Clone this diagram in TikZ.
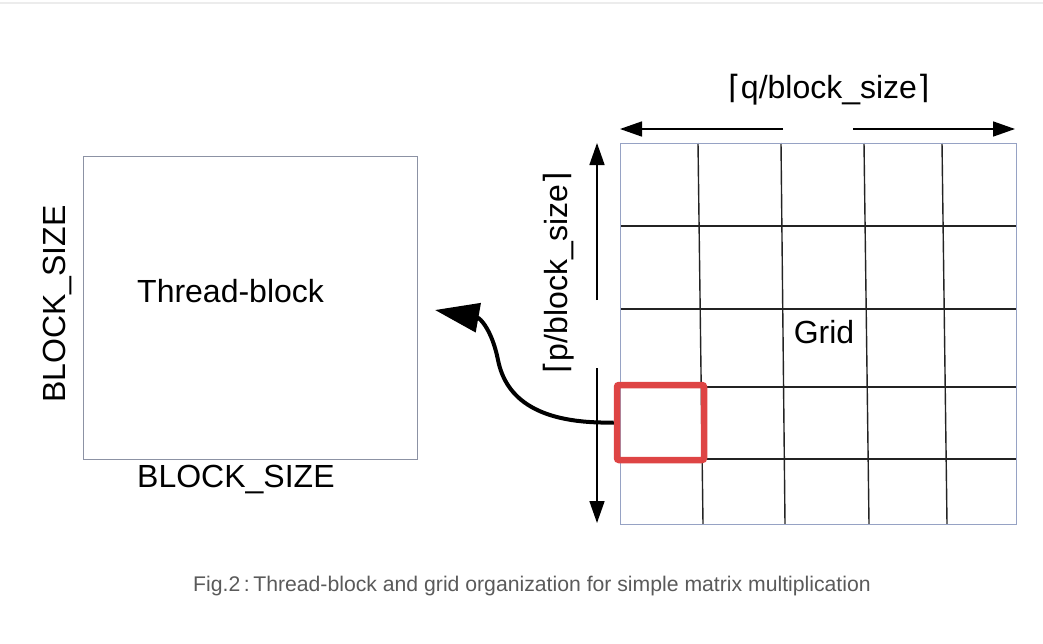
\documentclass[tikz,border=0pt]{standalone}
\usepackage{fontspec}
\setmainfont{Liberation Sans}
\newfontfamily\dv{DejaVu Sans}
\usetikzlibrary{arrows.meta}
\definecolor{boxgray}{RGB}{140,146,164}
\definecolor{gridblue}{RGB}{150,162,196}
\definecolor{gridline}{RGB}{35,35,35}
\definecolor{redsq}{RGB}{222,68,68}
\definecolor{capgray}{RGB}{90,90,90}
\definecolor{topgray}{RGB}{236,236,236}
\begin{document}
\begin{tikzpicture}[x=1pt,y=-1pt,
  lbl/.style={font=\fontsize{32}{38}\selectfont, inner sep=0pt, text=black},
  dimarrow/.style={line width=1.6pt, -{Triangle[length=22pt,width=15pt]}},
  bigarrow/.style={line width=4pt, -{Triangle[length=44pt,width=29pt]}},
  gl/.style={gridline, line width=1.4pt}
]
\useasboundingbox (0,0) rectangle (1043,643);
\draw[topgray, line width=1.5pt] (0,3) -- (1043,3);

% Thread block
\node[draw=boxgray, line width=1.3pt, minimum width=334pt, minimum height=303pt, inner sep=0pt, anchor=north west] (tb) at (83,156) {};
\node[lbl, anchor=base west] (tbl) at (137,302) {Thread-block};
\node[lbl, anchor=base west] (bsx) at (137,487) {BLOCK\_SIZE};
\node[lbl, anchor=base west, rotate=90] (bsy) at (65,403) {BLOCK\_SIZE};

% Grid
\foreach \xt/\xb in {698/703, 781/785, 864/869, 942/947}
  \draw[gl] (\xt,143) -- (\xb,524);
\foreach \yy in {226,309,387,459}
  \draw[gl] (620,\yy) -- (1016,\yy);
\node[draw=gridblue, line width=1.3pt, minimum width=396pt, minimum height=381pt, inner sep=0pt, anchor=north west] (grid) at (620,143) {};
\node[lbl, anchor=base] (gridl) at (824,343) {Grid};

% red square
\node[draw=redsq, line width=6.5pt, rounded corners=2pt, minimum width=87pt, minimum height=75pt, inner sep=0pt] (rs) at (660.5,422.5) {};

% dimension arrows
\coordinate (hl0) at (783,129);
\coordinate (hl1) at (620,129);
\coordinate (hr0) at (853,129);
\coordinate (hr1) at (1015,129);
\draw[dimarrow] (hl0) -- (hl1);
\draw[dimarrow] (hr0) -- (hr1);
\node[lbl, anchor=base] (ql) at (829,98) {{\dv ⌈}q/block\_size{\dv ⌉}};

\coordinate (vt0) at (597,300);
\coordinate (vt1) at (597,143);
\coordinate (vb0) at (597,368);
\coordinate (vb1) at (597,523);
\draw[dimarrow] (vt0) -- (vt1);
\draw[dimarrow] (vb0) -- (vb1);
\node[lbl, anchor=base, rotate=90] (pl) at (567,273) {{\dv ⌈}p/block\_size{\dv ⌉}};

% curved arrow
\coordinate (tip) at (435,310);
\draw[bigarrow] (rs.west) .. controls (540,424) and (506,400) .. (498,360)
   .. controls (492,330) and (480,318) .. (tip);

% caption
\node[font=\fontsize{21.2}{25}\selectfont, text=capgray, anchor=base, inner sep=0pt] (cap) at (532,591) {Fig.2\,:\,Thread-block and grid organization for simple matrix multiplication};
\end{tikzpicture}
\end{document}
